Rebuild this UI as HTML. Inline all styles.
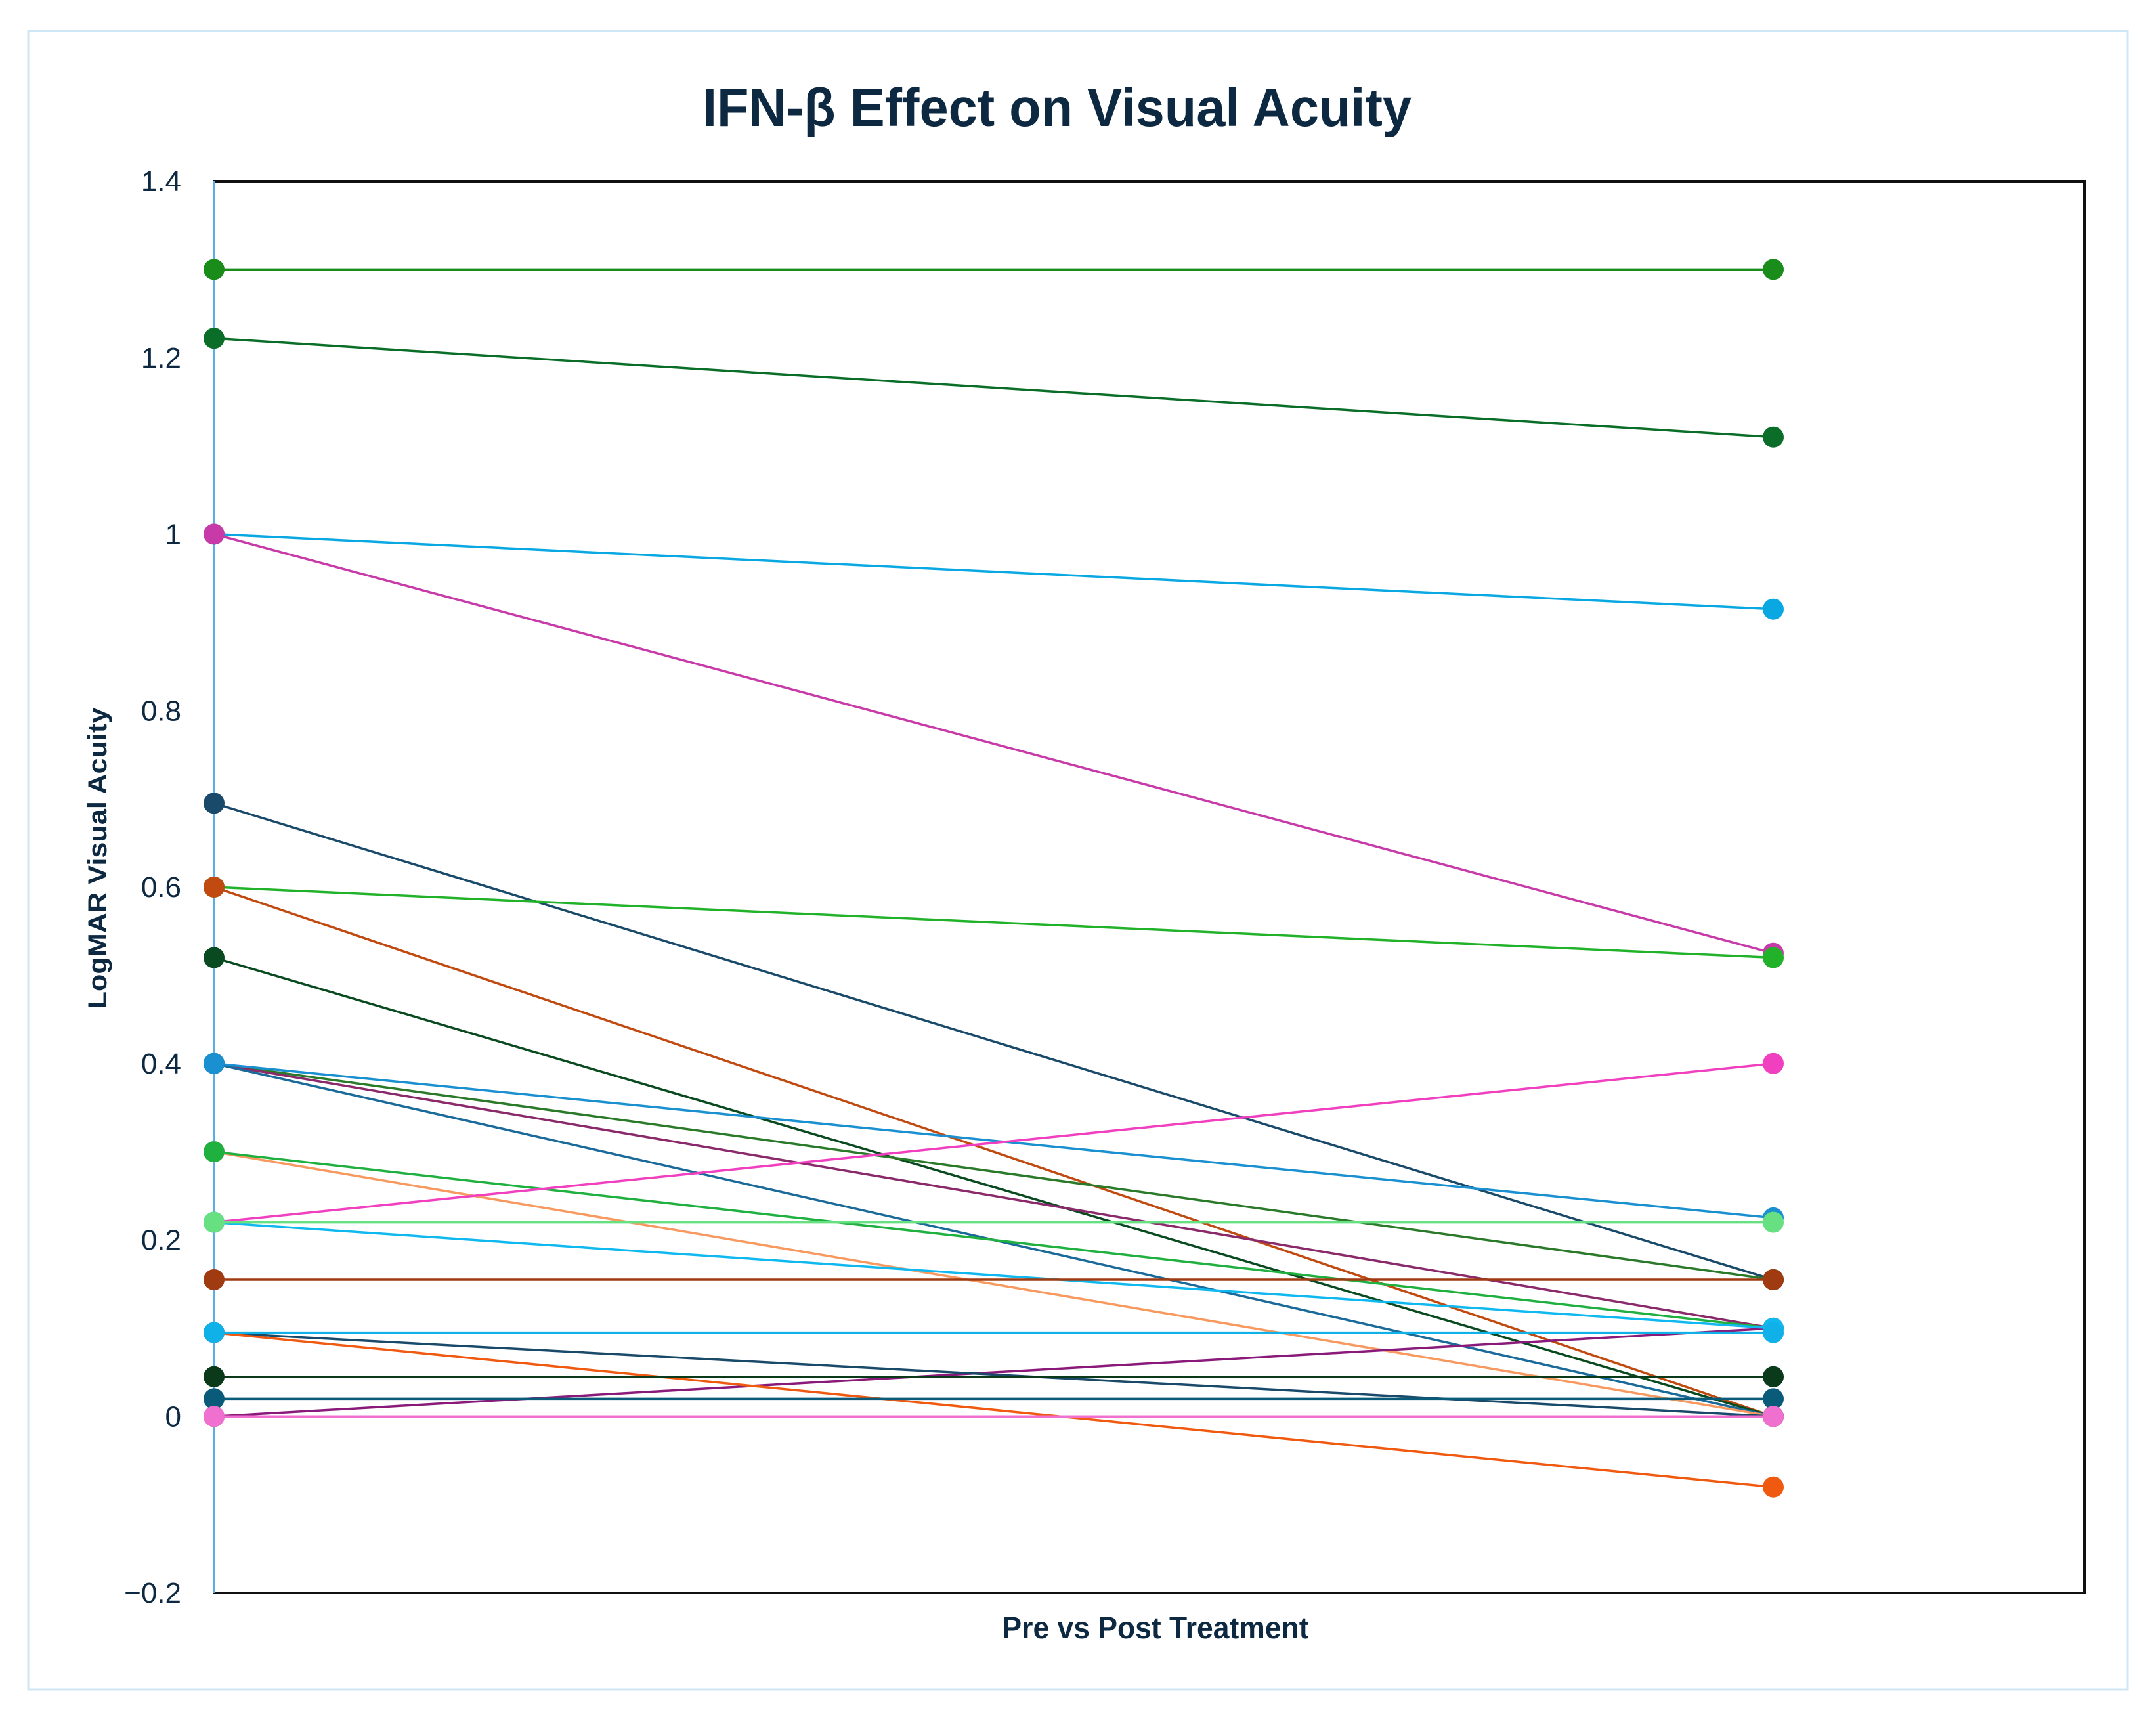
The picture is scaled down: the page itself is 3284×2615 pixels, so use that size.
<!DOCTYPE html>
<html><head><meta charset="utf-8"><style>
html,body{margin:0;padding:0;background:#fff}
svg{display:block}
text{font-family:"Liberation Sans",sans-serif}
</style></head><body>
<svg id="chart" width="3284" height="2615" viewBox="0 0 3284 2615">
<rect x="43" y="47" width="3198" height="2526" fill="#fff" stroke="#cfe6f5" stroke-width="3"/>
<text x="1610" y="192" text-anchor="middle" font-size="82" font-weight="bold" fill="#0d2841" textLength="1080" lengthAdjust="spacingAndGlyphs">IFN-β Effect on Visual Acuity</text>
<rect x="326" y="276" width="2849" height="2150" fill="none" stroke="#111" stroke-width="4"/>
<g id="ticks"></g>
<line x1="326" y1="276" x2="326" y2="2426" stroke="#5aaee8" stroke-width="4"/>
<g id="series"></g>
<text transform="translate(162,1307) rotate(-90)" text-anchor="middle" font-size="40" font-weight="bold" fill="#0d2841" textLength="459" lengthAdjust="spacingAndGlyphs">LogMAR Visual Acuity</text>
<text x="1760" y="2495" text-anchor="middle" font-size="46" font-weight="bold" fill="#0d2841" textLength="467" lengthAdjust="spacingAndGlyphs">Pre vs Post Treatment</text>
</svg>
<script>
const tickValues=[1.4,1.2,1,0.8,0.6,0.4,0.2,0,-0.2];
const tickLabels=["1.4","1.2","1","0.8","0.6","0.4","0.2","0","\u22120.2"];
const preValues=[1.3,1.222,1.0,1.0,0.695,0.6,0.6,0.52,0.4,0.4,0.4,0.4,0.3,0,0.3,0.22,0.22,0.22,0.155,0.095,0.095,0.095,0.045,0.02,0];
const postValues=[1.3,1.11,0.915,0.525,0.155,0.52,0,0,0.155,0.1,0,0.225,0,0.1,0.1,0.4,0.1,0.22,0.155,0,-0.08,0.095,0.045,0.02,0];
const seriesColors=["#1a8c1a","#0a6e28","#0aa8e2","#c83aa8","#1a4a6a","#22b22a","#c04a10","#0a4a20","#2a7a2a","#8a2a6a","#1a6a9a","#1a90d0","#f89a60","#8a1a7a","#20b040","#f040c0","#10b8f0","#66e080","#a03a10","#1a4a6a","#f05a10","#10b0e8","#0a3a1a","#0a5a7a","#f070d0"];
const Y0=276,Y1=2426,VMAX=1.4,VMIN=-0.2,XPRE=326,XPOST=2701;
function y(v){return Y0+(VMAX-v)/(VMAX-VMIN)*(Y1-Y0);}
const NS="http://www.w3.org/2000/svg";
const tg=document.getElementById('ticks');
tickValues.forEach((v,i)=>{
 const t=document.createElementNS(NS,'text');
 t.setAttribute('x',276);t.setAttribute('y',y(v)+15);
 t.setAttribute('text-anchor','end');t.setAttribute('font-size','44');t.setAttribute('fill','#0d2841');
 
 
 t.textContent=tickLabels[i];tg.appendChild(t);
});
const sg=document.getElementById('series');
preValues.forEach((p,i)=>{
 const l=document.createElementNS(NS,'line');
 l.setAttribute('x1',XPRE);l.setAttribute('y1',y(p));l.setAttribute('x2',XPOST);l.setAttribute('y2',y(postValues[i]));
 l.setAttribute('stroke',seriesColors[i]);l.setAttribute('stroke-width','3.5');
 
 
 sg.appendChild(l);
});
preValues.forEach((p,i)=>{
 [[XPRE,p],[XPOST,postValues[i]]].forEach(([x,v])=>{
  const c=document.createElementNS(NS,'circle');
  c.setAttribute('cx',x);c.setAttribute('cy',y(v));c.setAttribute('r','16');c.setAttribute('fill',seriesColors[i]);
  
  
  sg.appendChild(c);
 });
});
</script>
</body></html>
